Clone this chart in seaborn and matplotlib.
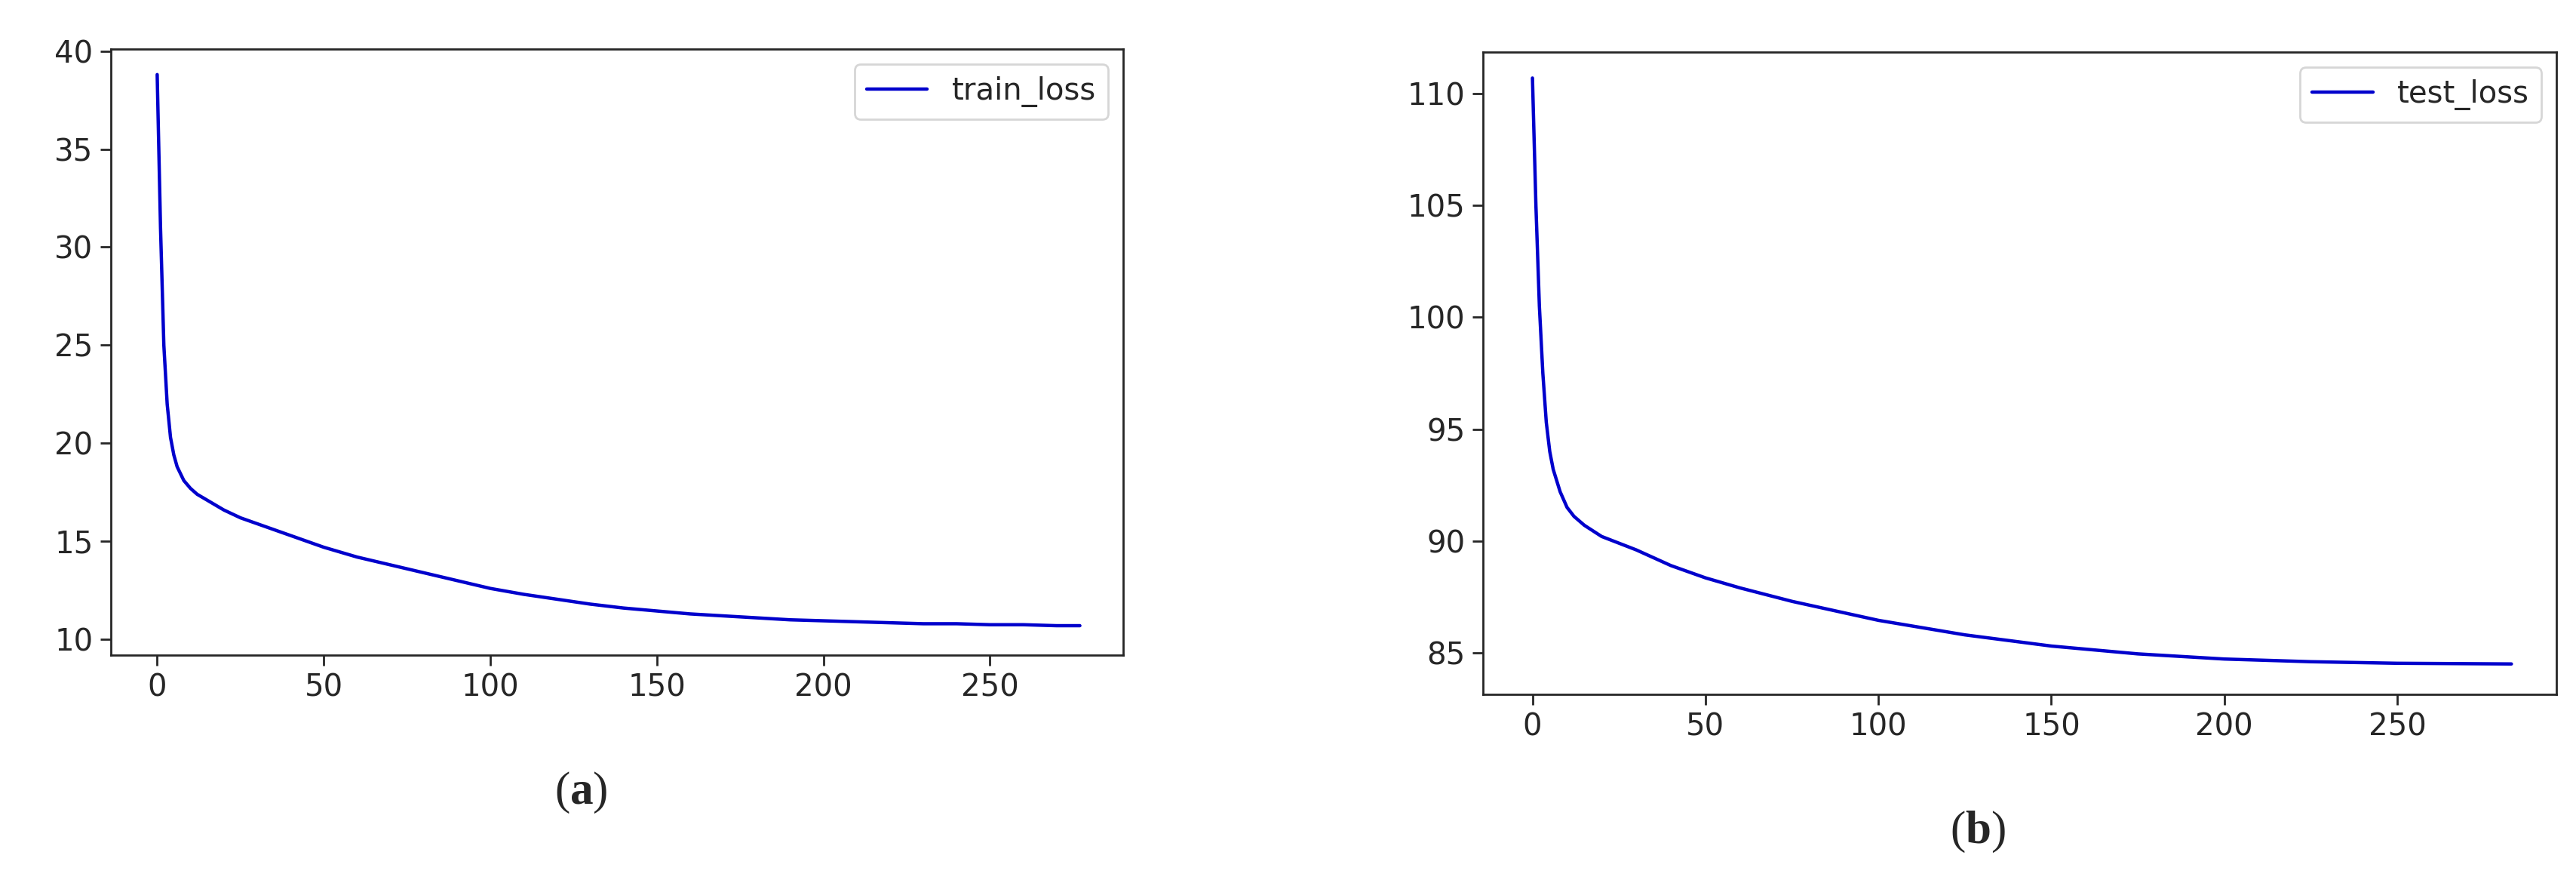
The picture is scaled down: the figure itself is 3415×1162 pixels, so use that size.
import matplotlib
matplotlib.use("Agg")
import matplotlib.pyplot as plt
import seaborn as sns
import pandas as pd

# values
train_epoch = [0, 1, 2, 3, 4, 5, 6, 8, 10, 12, 15, 18, 20, 25, 30, 35, 40, 45, 50, 60, 70, 80, 90,
               100, 110, 120, 130, 140, 150, 160, 170, 180, 190, 200, 210, 220, 230, 240, 250, 260, 270, 277]
train_loss = [38.8, 31.0, 25.0, 22.0, 20.3, 19.4, 18.8, 18.1, 17.7, 17.4, 17.1, 16.8, 16.6, 16.2, 15.9,
              15.6, 15.3, 15.0, 14.7, 14.2, 13.8, 13.4, 13.0, 12.6, 12.3, 12.05, 11.8, 11.6, 11.45,
              11.3, 11.2, 11.1, 11.0, 10.95, 10.9, 10.85, 10.8, 10.8, 10.75, 10.75, 10.7, 10.7]
test_epoch = [0, 1, 2, 3, 4, 5, 6, 8, 10, 12, 15, 20, 25, 30, 40, 50, 60, 75, 100, 125, 150, 175,
              200, 225, 250, 283]
test_loss = [110.7, 105.0, 100.5, 97.5, 95.3, 94.0, 93.2, 92.2, 91.5, 91.1, 90.7, 90.2, 89.9, 89.6,
             88.9, 88.35, 87.9, 87.3, 86.45, 85.8, 85.3, 84.95, 84.72, 84.6, 84.53, 84.5]

sns.set_style("ticks")
plt.rcParams["font.family"] = ["DejaVu Sans"]
plt.rcParams["mathtext.fontset"] = "custom"
plt.rcParams["mathtext.rm"] = "Liberation Serif"
plt.rcParams["mathtext.bf"] = "Liberation Serif:bold"

fig = plt.figure(figsize=(17.075, 5.81), dpi=200)
ax1 = fig.add_axes([147 / 3415, 1 - 868 / 1162, 1342 / 3415, 803 / 1162])
ax2 = fig.add_axes([1966 / 3415, 1 - 920 / 1162, 1423 / 3415, 851 / 1162])

df1 = pd.DataFrame({"epoch": train_epoch, "loss": train_loss})
df2 = pd.DataFrame({"epoch": test_epoch, "loss": test_loss})
sns.lineplot(data=df1, x="epoch", y="loss", ax=ax1, color="#0000cc", lw=1.6, label="train_loss")
sns.lineplot(data=df2, x="epoch", y="loss", ax=ax2, color="#0000cc", lw=1.6, label="test_loss")

ax1.set_xlim(-13.9, 290)
ax1.set_ylim(9.2, 40.1)
ax2.set_xlim(-14.3, 296)
ax2.set_ylim(83.14, 111.86)
ax1.set_yticks([10, 15, 20, 25, 30, 35, 40])
ax2.set_yticks([85, 90, 95, 100, 105, 110])
for ax in (ax1, ax2):
    ax.set_xticks([0, 50, 100, 150, 200, 250])
    ax.set_xlabel("")
    ax.set_ylabel("")
    ax.tick_params(labelsize=14.5, length=5, width=1)
    for s in ax.spines.values():
        s.set_visible(True)
        s.set_linewidth(1)
    ax.legend(loc="upper right", fontsize=14.5, frameon=True, fancybox=True)

fig.text(770 / 3415, 1 - 1050 / 1162, r"$\mathrm{(}\mathbf{a}\mathrm{)}$", fontsize=22, ha="center", va="center")
fig.text(2622 / 3415, 1 - 1102 / 1162, r"$\mathrm{(}\mathbf{b}\mathrm{)}$", fontsize=22, ha="center", va="center")

fig.savefig("out.png", dpi=200)
